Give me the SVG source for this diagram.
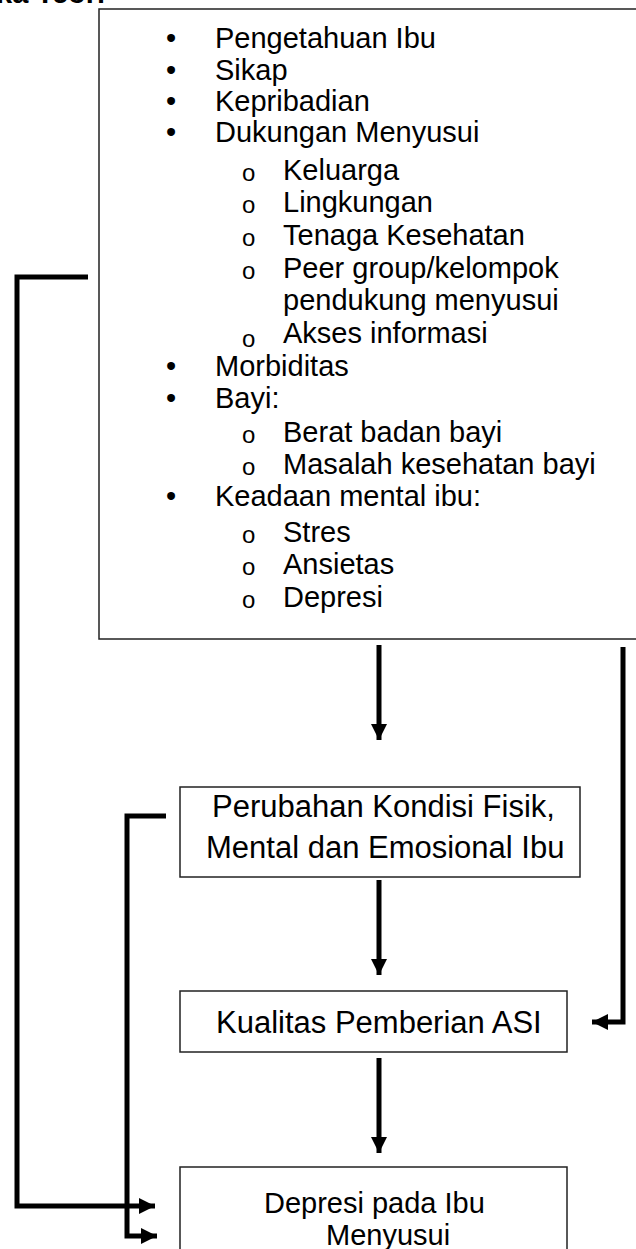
<svg xmlns="http://www.w3.org/2000/svg" width="636" height="1249" viewBox="0 0 636 1249">
<style>
.box{fill:#fff;stroke:#222;stroke-width:1.5}
.t{font-family:"Liberation Sans",Arial,sans-serif;font-size:29px;fill:#000}
.b{font-family:"Liberation Sans",Arial,sans-serif;font-size:31px;fill:#000}
.o{font-size:24px}
.title{font-family:"Liberation Sans",Arial,sans-serif;font-size:29px;font-weight:bold;fill:#000}
.c{fill:none;stroke:#000;stroke-width:5}
</style>
<defs>
<marker id="ah" markerUnits="userSpaceOnUse" markerWidth="18" markerHeight="18" viewBox="0 0 18 18" refX="16" refY="9" orient="auto">
<path d="M0,1 L16,9 L0,17 Z" fill="#000"/>
</marker>
</defs>
<rect width="636" height="1249" fill="#fff"/>
<text class="title" x="-4" y="3">ka Teori</text>
<g id="factors">
<rect class="box" x="99" y="9" width="560" height="630"/>
<g class="t">
<text x="166" y="48">•</text><text x="215" y="48">Pengetahuan Ibu</text>
<text x="166" y="80">•</text><text x="215" y="80">Sikap</text>
<text x="166" y="111">•</text><text x="215" y="111">Kepribadian</text>
<text x="166" y="142">•</text><text x="215" y="142">Dukungan Menyusui</text>
<text class="o" x="242" y="181">o</text><text x="283" y="180">Keluarga</text>
<text class="o" x="242" y="213">o</text><text x="283" y="212">Lingkungan</text>
<text class="o" x="242" y="246">o</text><text x="283" y="245">Tenaga Kesehatan</text>
<text class="o" x="242" y="279">o</text><text x="283" y="278">Peer group/kelompok</text>
<text x="283" y="310">pendukung menyusui</text>
<text class="o" x="242" y="347">o</text><text x="283" y="343">Akses informasi</text>
<text x="166" y="376">•</text><text x="215" y="376">Morbiditas</text>
<text x="166" y="408">•</text><text x="215" y="408">Bayi:</text>
<text class="o" x="242" y="443">o</text><text x="283" y="442">Berat badan bayi</text>
<text class="o" x="242" y="475">o</text><text x="283" y="474">Masalah kesehatan bayi</text>
<text x="166" y="506">•</text><text x="215" y="506">Keadaan mental ibu:</text>
<text class="o" x="242" y="543">o</text><text x="283" y="542">Stres</text>
<text class="o" x="242" y="575">o</text><text x="283" y="574">Ansietas</text>
<text class="o" x="242" y="608">o</text><text x="283" y="607">Depresi</text>
</g>
</g>
<g id="perubahan">
<rect class="box" x="180" y="787" width="400" height="90"/>
<text class="b" x="212" y="817">Perubahan Kondisi Fisik,</text>
<text class="b" x="206" y="858">Mental dan Emosional Ibu</text>
</g>
<g id="kualitas">
<rect class="box" x="180" y="991" width="387" height="61"/>
<text class="b" x="216" y="1033">Kualitas Pemberian ASI</text>
</g>
<g id="depresi">
<rect class="box" x="180" y="1167" width="387" height="100"/>
<text class="t" x="264" y="1213">Depresi pada Ibu</text>
<text class="t" x="326" y="1245">Menyusui</text>
</g>
<g id="connectors">
<path class="c" d="M379,645 V740" marker-end="url(#ah)"/>
<path class="c" d="M379,880 V975" marker-end="url(#ah)"/>
<path class="c" d="M379,1058 V1153" marker-end="url(#ah)"/>
<path class="c" d="M623,647 V1022 H592" marker-end="url(#ah)"/>
<path class="c" d="M88,277 H17 V1206 H155" marker-end="url(#ah)"/>
<path class="c" d="M166,816 H127 V1236 H157" marker-end="url(#ah)"/>
</g>
</svg>
